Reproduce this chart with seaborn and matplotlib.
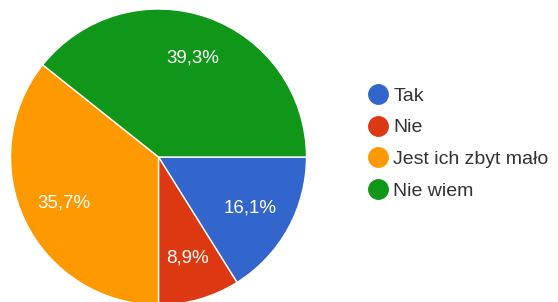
import matplotlib
matplotlib.use("Agg")
import matplotlib.pyplot as plt
from matplotlib.lines import Line2D
import seaborn as sns

categories = ["Tak", "Nie", "Jest ich zbyt mało", "Nie wiem"]
values = [16.1, 8.9, 35.7, 39.3]
colors = ["#3366cc", "#dc3912", "#ff9900", "#109618"]

sns.set_theme(style="white")
plt.rcParams['font.family'] = ['Liberation Sans', 'DejaVu Sans']

fig = plt.figure(figsize=(5.58, 3.02), dpi=100)
W, H = 558, 302
cx, cy, r = 158.5, 157, 148
ax = fig.add_axes([(cx - r) / W, 1 - (cy + r) / H, 2 * r / W, 2 * r / H])

def fmt(p):
    return f"{p:.1f}%".replace(".", ",")

wedges, texts, autotexts = ax.pie(
    values, colors=colors, startangle=0, counterclock=False,
    autopct=fmt, pctdistance=0.71, radius=1,
    wedgeprops=dict(edgecolor="white", linewidth=1),
    textprops=dict(color="white", fontsize=13.5),
)
ax.set_xlim(-1, 1)
ax.set_ylim(-1, 1)
ax.set_aspect("equal")
ax.axis("off")

handles = [Line2D([0], [0], marker="o", linestyle="none", markersize=14,
                  markerfacecolor=c, markeredgecolor=c) for c in colors]
fig.legend(handles, categories, loc="center left",
           bbox_to_anchor=(368 / W, 1 - 143.5 / H), frameon=False,
           fontsize=14, handlelength=1.0, handletextpad=0.3,
           labelspacing=0.72, borderpad=0, borderaxespad=0,
           labelcolor="#333333")

fig.savefig("out.png", dpi=100, facecolor="white")
